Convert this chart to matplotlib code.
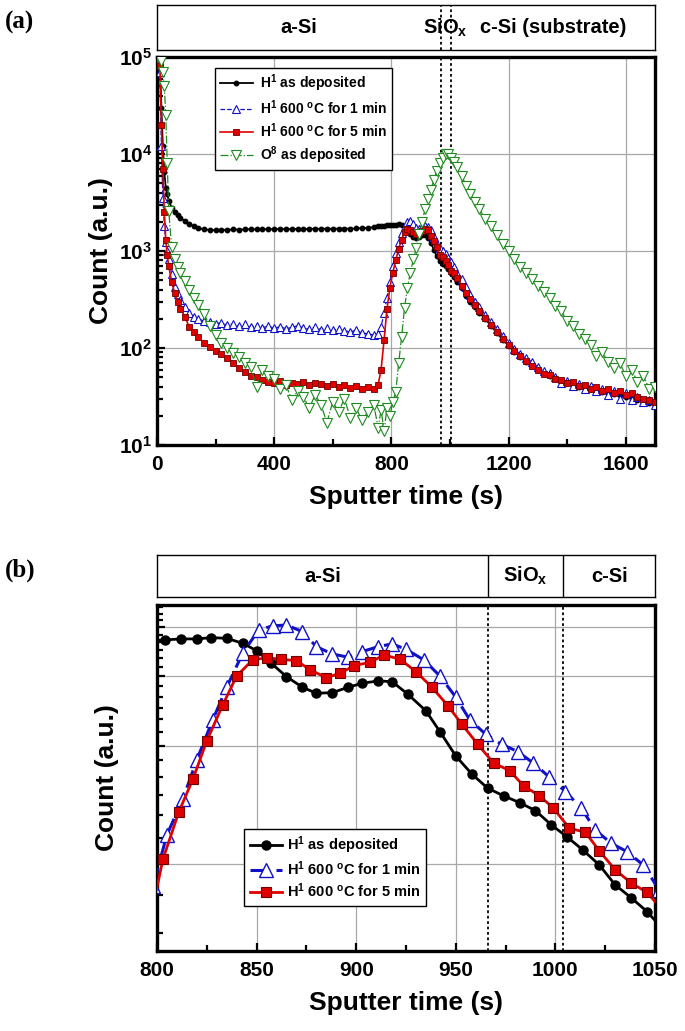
import numpy as np
import matplotlib
matplotlib.use('Agg')
import matplotlib.pyplot as plt
from matplotlib import font_manager
from matplotlib.ticker import FixedLocator, NullFormatter, LogLocator, MultipleLocator

plt.rcParams['font.family'] = ['Liberation Sans', 'DejaVu Sans']
plt.rcParams['font.weight'] = 'bold'
plt.rcParams['mathtext.fontset'] = 'custom'
plt.rcParams['mathtext.rm'] = 'Liberation Sans:bold'
plt.rcParams['mathtext.bf'] = 'Liberation Sans:bold'
plt.rcParams['mathtext.default'] = 'rm'

# ---- panel (a): full depth profile ----
t_a = [5, 10, 15, 20, 25, 30, 35, 40, 50, 60, 70, 80, 95, 110, 125, 140,
       160, 180, 200, 220, 240, 260, 280, 300, 320, 340, 360, 380, 400, 420,
       440, 460, 480, 500, 520, 540, 560, 580, 600, 620, 640, 660, 680, 700,
       720, 740, 755, 765, 775, 785, 795, 805, 815, 825, 835, 845, 855, 865,
       875, 885, 895, 905, 915, 925, 935, 945, 955, 965, 975, 985, 995, 1005,
       1015, 1025, 1040, 1055, 1070, 1085, 1100, 1120, 1140, 1160, 1180, 1200,
       1220, 1240, 1260, 1280, 1300, 1320, 1340, 1360, 1380, 1400, 1420, 1440,
       1460, 1480, 1500, 1520, 1540, 1560, 1580, 1600, 1620, 1640, 1660, 1680,
       1700]

h_dep_a = [90000, 85000, 30000, 12000, 6500, 4500, 3900, 3300, 2800, 2550, 2350,
           2200, 2030, 1900, 1800, 1730, 1670, 1650, 1640, 1660, 1650, 1670, 1660,
           1670, 1680, 1670, 1680, 1675, 1680, 1690, 1680, 1685, 1690, 1685, 1690,
           1700, 1690, 1700, 1695, 1700, 1705, 1700, 1710, 1720, 1730, 1760, 1790,
           1810, 1830, 1850, 1860, 1862, 1868, 1880, 1872, 1800, 1640, 1500, 1400,
           1360, 1400, 1445, 1460, 1360, 1220, 1030, 880, 785, 740, 700, 650, 587,
           537, 482, 415, 345, 300, 262, 232, 200, 170, 143, 122, 106, 92, 81, 72,
           65, 59, 55, 51, 48, 46, 44, 42, 40, 39, 38, 36.5, 35.5, 34.5, 33.5, 32.5,
           31.5, 30, 29, 28, 27, 26]

h_1min_a = [98000, 70000, 12000, 3500, 1800, 1250, 1000, 820, 580, 430, 360, 310,
            265, 232, 210, 200, 190, 185, 178, 182, 172, 178, 168, 175, 165, 170,
            162, 168, 160, 166, 158, 163, 170, 160, 157, 164, 155, 160, 152, 158,
            150, 147, 152, 143, 140, 136, 138, 165, 230, 330, 480, 700, 960, 1250,
            1520, 1780, 1990, 2030, 1920, 1740, 1680, 1750, 1810, 1760, 1640, 1400,
            1190, 1070, 990, 935, 840, 762, 680, 580, 510, 430, 350, 300, 262, 220,
            185, 158, 132, 112, 98, 86, 78, 72, 63, 58, 55, 50, 44, 46, 41, 43, 38,
            41, 36, 38, 33, 36, 30, 34, 29, 31, 28, 29, 26]

h_5min_a = [92000, 80000, 20000, 7000, 2500, 1300, 900, 700, 480, 370, 300, 255,
            210, 165, 145, 130, 113, 103, 94, 86, 79, 70, 62, 57, 52, 50, 47, 45,
            44, 46, 42, 44, 43, 45, 42, 44, 43, 41, 43, 40, 42, 39, 41, 38, 40, 38,
            42, 60, 120, 250, 420, 600, 800, 1060, 1300, 1560, 1670, 1660, 1570,
            1490, 1560, 1620, 1700, 1640, 1440, 1270, 1100, 920, 860, 790, 720, 628,
            600, 530, 440, 370, 320, 275, 240, 205, 172, 146, 125, 107, 93, 82, 74,
            66, 60, 54, 53, 48, 47, 44, 45, 41, 42, 38, 40, 36, 38, 34, 36, 33, 34,
            31, 30, 29, 28]

o_dep_a = [99000, 97000, 90000, 70000, 50000, 25000, 8000, 2600, 1100, 830, 680,
           600, 490, 400, 330, 275, 225, 170, 135, 112, 100, 88, 80, 70, 64, 40, 60,
           52, 48, 38, 42, 29, 36, 31, 24, 33, 26, 17, 28, 22, 30, 19, 24, 18, 22,
           26, 15, 23, 14, 24, 20, 28, 35, 70, 130, 260, 420, 600, 820, 1070, 1500,
           2000, 2700, 3400, 4300, 5400, 6700, 8000, 9200, 9900, 10000, 9100, 8200,
           7300, 6000, 4700, 3900, 3200, 2700, 2150, 1800, 1450, 1170, 1000, 830,
           690, 590, 510, 440, 380, 330, 270, 240, 190, 170, 138, 125, 108, 82, 90,
           72, 62, 70, 52, 60, 45, 52, 38, 40]

layer_a = ['a-Si', 'SiO$_{x}$', 'c-Si (substrate)']
bounds_a = [968, 1003]

# ---- panel (b): zoom 800-1050 s ----
t_dep_b = [797, 804, 812, 820, 827, 835, 843, 850, 857, 865, 873, 880, 888, 896,
           903, 911, 918, 926, 935, 942, 950, 958, 966, 974, 982, 990, 998, 1006,
           1014, 1022, 1030, 1038, 1046, 1053]
h_dep_b = [1850, 1858, 1869, 1869, 1883, 1876, 1822, 1745, 1626, 1498, 1408, 1359,
           1364, 1408, 1441, 1461, 1455, 1351, 1226, 1086, 941, 847, 779, 745, 716,
           683, 628, 585, 541, 497, 442, 410, 378, 345]

t_1min_b = [798, 805, 813, 820, 828, 835, 843, 851, 858, 865, 873, 880, 888, 896,
            903, 911, 918, 925, 934, 942, 950, 957, 965, 973, 981, 989, 997, 1005,
            1013, 1020, 1028, 1036, 1044, 1052]
h_1min_b = [440, 593, 732, 920, 1163, 1408, 1718, 1970, 2017, 2028, 1950, 1786,
            1711, 1679, 1735, 1786, 1815, 1759, 1652, 1504, 1328, 1163, 1069, 1008,
            966, 902, 831, 764, 693, 610, 564, 537, 497, 430]

t_5min_b = [796, 803, 811, 818, 825, 833, 840, 848, 855, 862, 870, 877, 885, 892,
            899, 907, 914, 922, 930, 938, 946, 953, 961, 969, 977, 984, 992, 999,
            1007, 1015, 1022, 1030, 1038, 1046, 1053]
h_5min_b = [350, 514, 679, 821, 1028, 1269, 1504, 1652, 1675, 1659, 1645, 1558,
            1489, 1529, 1598, 1630, 1701, 1659, 1543, 1408, 1264, 1134, 1008, 902,
            864, 790, 745, 693, 616, 602, 540, 483, 447, 423, 385]

layer_b = ['a-Si', 'SiO$_{x}$', 'c-Si']
bounds_b = [966, 1004]

lab_dep = 'H$^{1}$ as deposited'
lab_1min = 'H$^{1}$ 600 $^{o}$C for 1 min'
lab_5min = 'H$^{1}$ 600 $^{o}$C for 5 min'
lab_o = 'O$^{8}$ as deposited'

BLUE = '#1010c8'
RED = '#e00000'
GREEN = '#1f8a1f'
GRID = '#a8a8a8'

# narrow font for the legends if there is one
try:
    font_manager.findfont('Liberation Sans Narrow', fallback_to_default=False)
    LEG_FAM, LEG_SIZE = 'Liberation Sans Narrow', 11.5
except ValueError:
    LEG_FAM, LEG_SIZE = 'Liberation Sans', 10

fig = plt.figure(figsize=(6.85, 10.31), dpi=100)
W, H = 685, 1031


def box(l, t, r, b):
    return [l / W, (H - b) / H, (r - l) / W, (b - t) / H]


ax_a = fig.add_axes(box(157, 57, 655, 445))
hd_a = fig.add_axes(box(157, 5, 655, 50))
ax_b = fig.add_axes(box(157, 605, 655, 951))
hd_b = fig.add_axes(box(157, 555, 655, 597))

# --- panel (a) ---
ax_a.plot(t_a, h_dep_a, '-', color='k', lw=1.3, marker='o', ms=3.2, label=lab_dep, zorder=3)
ax_a.plot(t_a, h_1min_a, '--', color=BLUE, lw=0.9, marker='^', ms=6,
          mfc='white', mec=BLUE, mew=0.8, label=lab_1min, zorder=4)
ax_a.plot(t_a, h_5min_a, '-', color=RED, lw=1.2, marker='s', ms=5,
          mfc=RED, mec='#700000', mew=0.6, label=lab_5min, zorder=5)
ax_a.plot(t_a, o_dep_a, '-.', color=GREEN, lw=0.9, marker='v', ms=6.5,
          mfc='white', mec=GREEN, mew=0.8, label=lab_o, zorder=6)
ax_a.set_yscale('log')
ax_a.set_xlim(0, 1700)
ax_a.set_ylim(10, 1e5)
ax_a.set_xticks([0, 400, 800, 1200, 1600])
ax_a.xaxis.set_minor_locator(MultipleLocator(200))
ax_a.yaxis.set_major_locator(FixedLocator([1e1, 1e2, 1e3, 1e4, 1e5]))
ax_a.set_yticklabels(['$10^{1}$', '$10^{2}$', '$10^{3}$', '$10^{4}$', '$10^{5}$'])
ax_a.yaxis.set_minor_locator(LogLocator(base=10, subs=np.arange(2, 10)))
ax_a.yaxis.set_minor_formatter(NullFormatter())
ax_a.grid(True, which='major', color=GRID, lw=0.9, zorder=0)
for xv in bounds_a:
    ax_a.axvline(xv, color='k', ls=(0, (1.5, 1.5)), lw=1.3, zorder=2)
ax_a.set_xlabel('Sputter time (s)', fontsize=19, fontweight='bold', labelpad=8)
ax_a.set_ylabel('Count (a.u.)', fontsize=19, fontweight='bold', labelpad=4)
leg = ax_a.legend(loc='upper left', bbox_to_anchor=(0.102, 0.99),
                  prop={'family': LEG_FAM, 'weight': 'bold', 'size': LEG_SIZE},
                  frameon=True, fancybox=False, framealpha=1, edgecolor='k',
                  handlelength=2.4, handletextpad=0.5, borderpad=0.35,
                  labelspacing=0.3)
leg.get_frame().set_linewidth(1.0)

# --- panel (b) ---
ax_b.plot(t_dep_b, h_dep_b, '-', color='k', lw=2, marker='o', ms=6.5, label=lab_dep, zorder=3)
ax_b.plot(t_1min_b, h_1min_b, color=BLUE, ls=(0, (6, 2.5)), lw=2.2, marker='^', ms=10,
          mfc='white', mec=BLUE, mew=1.0, label=lab_1min, zorder=4)
ax_b.plot(t_5min_b, h_5min_b, '-', color=RED, lw=2, marker='s', ms=7,
          mfc=RED, mec='#700000', mew=0.8, label=lab_5min, zorder=5)
ax_b.set_yscale('log')
ax_b.set_xlim(800, 1050)
ax_b.set_ylim(300, 2280)
ax_b.set_xticks([800, 850, 900, 950, 1000, 1050])
ax_b.xaxis.set_minor_locator(MultipleLocator(25))
ax_b.yaxis.set_major_locator(FixedLocator([500, 1000, 1500, 2000]))
ax_b.yaxis.set_major_formatter(NullFormatter())
ax_b.yaxis.set_minor_locator(FixedLocator(np.arange(250, 2300, 500 / 6)))
ax_b.yaxis.set_minor_formatter(NullFormatter())
ax_b.grid(True, which='major', color=GRID, lw=0.9, zorder=0)
for xv in bounds_b:
    ax_b.axvline(xv, color='k', ls=(0, (1.5, 1.5)), lw=1.3, zorder=2)
ax_b.set_xlabel('Sputter time (s)', fontsize=19, fontweight='bold', labelpad=8)
ax_b.set_ylabel('Count (a.u.)', fontsize=19, fontweight='bold', labelpad=24)
leg_b = ax_b.legend(loc='upper left', bbox_to_anchor=(0.161, 0.373),
                    prop={'family': LEG_FAM, 'weight': 'bold', 'size': LEG_SIZE + 0.5},
                    frameon=True, fancybox=False, framealpha=1, edgecolor='k',
                    handlelength=2.2, handletextpad=0.4, borderpad=0.35,
                    labelspacing=0.25)
leg_b.get_frame().set_linewidth(1.0)

for ax in (ax_a, ax_b):
    for sp in ax.spines.values():
        sp.set_linewidth(2.4)
    ax.tick_params(which='both', direction='in', width=1.6, labelsize=15)
    ax.tick_params(which='major', length=6)
    ax.tick_params(which='minor', length=4)
    ax.tick_params(axis='x', pad=7)

# --- layer header boxes ---
for hd, ref, names, bnds, solid in ((hd_a, ax_a, layer_a, bounds_a, False),
                                    (hd_b, ax_b, layer_b, bounds_b, True)):
    x0, x1 = ref.get_xlim()
    hd.set_xlim(x0, x1)
    hd.set_ylim(0, 1)
    hd.set_xticks([])
    hd.set_yticks([])
    for sp in hd.spines.values():
        sp.set_linewidth(1.0)
    edges = [x0] + bnds + [x1]
    for xv in bnds:
        if solid:
            hd.axvline(xv, color='k', lw=1.0)
        else:
            hd.axvline(xv, color='k', ls=(0, (1.5, 1.5)), lw=1.3)
    for i, name in enumerate(names):
        hd.text((edges[i] + edges[i + 1]) / 2, 0.5, name, ha='center', va='center',
                fontsize=14.5, fontweight='bold')

fig.text(5 / W, 1 - 22 / H, '(a)', fontsize=18, fontweight='bold',
         family=['Liberation Serif', 'DejaVu Serif'], va='center', ha='left')
fig.text(5 / W, 1 - 570 / H, '(b)', fontsize=18, fontweight='bold',
         family=['Liberation Serif', 'DejaVu Serif'], va='center', ha='left')

fig.savefig('out.png', dpi=100)
